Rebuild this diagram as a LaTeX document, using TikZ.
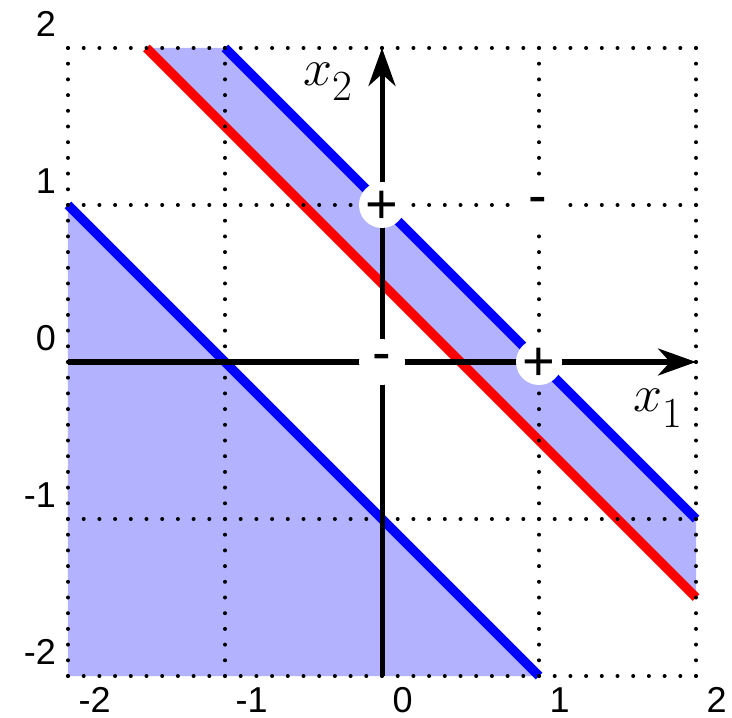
\RequirePackage{fix-cm}
\documentclass[tikz,border=0pt]{standalone}
\usepackage{fontspec}
\newfontfamily\arialf{Liberation Sans}
\usetikzlibrary{arrows.meta}
\definecolor{shadeblue}{RGB}{178,178,255}
\begin{document}
\begin{tikzpicture}[x=157pt,y=157pt,
  tick/.style={font=\fontsize{36}{36}\selectfont\arialf, inner sep=0pt},
  sign/.style={font=\fontsize{56}{56}\selectfont\arialf, inner sep=0pt, anchor=base},
  wcirc/.style={circle, fill=white, minimum size=46pt, inner sep=0pt},
  gridl/.style={line width=4pt, line cap=round, dash pattern=on 0pt off 15.7pt},
  bl/.style={blue, line width=9.5pt},
  rl/.style={red, line width=9.5pt},
  ax/.style={line width=5pt, -{Stealth[length=38pt,width=27pt,inset=12pt]}},
  mlab/.style={inner sep=0pt, anchor=base west}
]
\useasboundingbox (-2.43312,-2.26115) rectangle (2.22930,2.30573);
% shaded regions
\fill[shadeblue] (-1.5,2) -- (-1,2) -- (2,-1) -- (2,-1.5) -- cycle;
\fill[shadeblue] (-2,1) -- (-2,-2) -- (1,-2) -- cycle;
% lines
\coordinate (ba) at (-1,2); \coordinate (bb) at (2,-1);
\coordinate (ra) at (-1.5,2); \coordinate (rb) at (2,-1.5);
\coordinate (ca) at (-2,1); \coordinate (cb) at (1,-2);
\draw[rl] (ra) -- (rb);
\draw[bl] (ba) -- (bb);
\draw[bl] (ca) -- (cb);
% dotted grid
\foreach \i in {-2,...,2} {
  \draw[gridl] (\i,-2) -- (\i,2.0005);
  \draw[gridl] (-2,\i) -- (2.0005,\i);
}
% axes
\coordinate (xs) at (-2,0); \coordinate (xe) at (2,0);
\coordinate (ys) at (0,-2); \coordinate (ye) at (0,2);
\draw[ax] (xs) -- (xe);
\draw[ax] (ys) -- (ye);
% white circles
\node[wcirc] (cO) at (0,0) {};
\node[wcirc] (cA) at (0,1) {};
\node[wcirc] (cB) at (1,0) {};
\node[wcirc] (cC) at (1,1) {};
% signs
\node[sign] (sA) at ([yshift=-18.6pt]cA.center) {+};
\node[sign] (sB) at ([xshift=-0.5pt,yshift=-18.6pt]cB.center) {+};
\node[sign] (sO) at ([yshift=-9.2pt]cO.center) {-};
\node[sign] (sC) at ([xshift=-1pt,yshift=-9.2pt]cC.center) {-};
% tick labels
\foreach \v in {-2,-1,0,1,2} {
  \node[tick, anchor=base west] (tx\v) at (\v+0.0669,-2.2325) {\v};
  \node[tick, anchor=base east] (ty\v) at (-2.0764,\v+0.074) {\v};
}
% axis labels
\node[mlab] (lx1) at (1.602,-0.318) {\fontsize{52}{52}\selectfont$x$\raisebox{-16pt}{\fontsize{43}{43}\selectfont 1}};
\node[mlab] (lx2) at (-0.5,1.758) {\fontsize{52}{52}\selectfont$x$\raisebox{-15pt}{\fontsize{43}{43}\selectfont 2}};
\end{tikzpicture}
\end{document}
